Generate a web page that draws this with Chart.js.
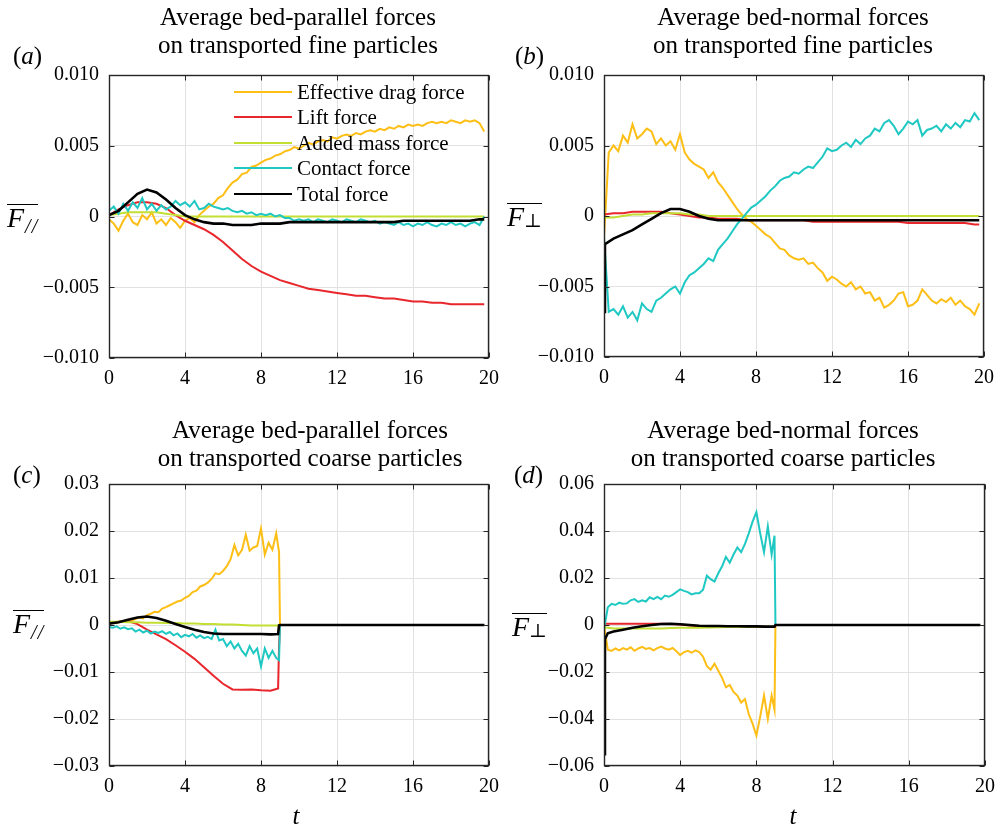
<!DOCTYPE html>
<html>
<head>
<meta charset="utf-8">
<script src="https://cdn.jsdelivr.net/npm/chart.js@4.4.1/dist/chart.umd.min.js"></script>
<style>
  body { margin: 0; background: #fff; }
  #fig { position: relative; width: 999px; height: 828px; overflow: hidden;
         font-family: 'Liberation Serif', 'Times New Roman', serif; color: #000; }
  #fig canvas { position: absolute; }
  .title { position: absolute; font-size: 25px; line-height: 28px; text-align: center;
           white-space: nowrap; transform: translateX(-50%); }
  .tag { position: absolute; font-size: 25px; line-height: 22px; white-space: nowrap; }
  .tag i, .tlab { font-style: italic; }
  .tlab { position: absolute; font-size: 25px; line-height: 22px; transform: translateX(-50%); }
  .ylab { position: absolute; font-size: 28px; line-height: 24px; white-space: nowrap;
          border-top: 1.3px solid #000; padding-top: 1px; }
  .ylab i { font-style: italic; }
  .ylab .par { font-size: 20px; font-style: italic; position: relative; top: 6px; letter-spacing: 1px; margin-left: 1px; }
  .ylab .perp { font-family: 'DejaVu Serif', 'DejaVu Sans', serif; font-size: 19px; position: relative; top: 1px; }
  #legend { position: absolute; left: 0; top: 0; }
  .row { position: absolute; height: 24px; line-height: 24px; font-size: 21px; white-space: nowrap; }
  .row .sw { position: absolute; left: 234px; top: 11px; width: 58px; border-top: 2px solid; }
  .row span { position: absolute; left: 297px; top: 0; }
</style>
</head>
<body>
<div id="fig">
  <canvas id="pa" width="499" height="400" style="left:0;top:0"></canvas>
  <canvas id="pb" width="500" height="400" style="left:499px;top:0"></canvas>
  <canvas id="pc" width="499" height="428" style="left:0;top:400px"></canvas>
  <canvas id="pd" width="500" height="428" style="left:499px;top:400px"></canvas>

  <div class="title" style="left:298px;top:3px">Average bed-parallel forces<br>on transported fine particles</div>
  <div class="title" style="left:793px;top:3px">Average bed-normal forces<br>on transported fine particles</div>
  <div class="title" style="left:310px;top:416px">Average bed-parallel forces<br>on transported coarse particles</div>
  <div class="title" style="left:783px;top:416px">Average bed-normal forces<br>on transported coarse particles</div>

  <div class="tag" style="left:13px;top:45px">(<i>a</i>)</div>
  <div class="tag" style="left:515px;top:45px">(<i>b</i>)</div>
  <div class="tag" style="left:13px;top:464px">(<i>c</i>)</div>
  <div class="tag" style="left:514px;top:464px">(<i>d</i>)</div>

  <div class="ylab" style="left:7px;top:204px"><i>F</i><span class="par">//</span></div>
  <div class="ylab" style="left:507px;top:203px"><i>F</i><span class="perp">⊥</span></div>
  <div class="ylab" style="left:13px;top:610px"><i>F</i><span class="par">//</span></div>
  <div class="ylab" style="left:512px;top:613px"><i>F</i><span class="perp">⊥</span></div>

  <div class="tlab" style="left:296px;top:805px">t</div>
  <div class="tlab" style="left:793px;top:805px">t</div>

  <div id="legend"></div>
</div>

<script>
// force components, same order in every panel
const seriesNames = ['Effective drag force', 'Lift force', 'Added mass force', 'Contact force', 'Total force'];
const seriesColors = ['#FDBE16', '#E8262C', '#C3DF33', '#1FC8C2', '#000000'];

const xTicks = [0, 4, 8, 12, 16, 20];
const yTicksFine = [-0.010, -0.005, 0, 0.005, 0.010];
const yLabelsFine = ['\u22120.010', '\u22120.005', '0', '0.005', '0.010'];
const yTicksC = [-0.03, -0.02, -0.01, 0, 0.01, 0.02, 0.03];
const yLabelsC = ['\u22120.03', '\u22120.02', '\u22120.01', '0', '0.01', '0.02', '0.03'];
const yTicksD = [-0.06, -0.04, -0.02, 0, 0.02, 0.04, 0.06];
const yLabelsD = ['\u22120.06', '\u22120.04', '\u22120.02', '0', '0.02', '0.04', '0.06'];

// time samples, fine particles
const tFine = [0,0.25,0.5,0.75,1,1.25,1.5,1.75,2,2.25,2.5,2.75,3,3.25,3.5,3.75,4,4.25,4.5,4.75,
  5,5.25,5.5,5.75,6,6.25,6.5,6.75,7,7.25,7.5,7.75,8,8.25,8.5,8.75,9,9.25,9.5,9.75,
  10,10.25,10.5,10.75,11,11.25,11.5,11.75,12,12.25,12.5,12.75,13,13.25,13.5,13.75,14,14.25,14.5,14.75,
  15,15.25,15.5,15.75,16,16.25,16.5,16.75,17,17.25,17.5,17.75,18,18.25,18.5,18.75,19,19.25,19.5,19.75];
const tCoarse = [0,0.5,1,1.5,2,2.5,3,3.5,4,4.5,5,5.5,6,6.5,7,7.5,8,8.5,9,9.5,
  10,10.5,11,11.5,12,12.5,13,13.5,14,14.5,15,15.5,16,16.5,17,17.5,18,18.5,19,19.5,19.75];
const tTotalB = [0,0.05,0.5,1,1.5,2,2.5,3,3.5,4,4.5,5,5.5,6,6.5,7,8,9,10,11,12,13,14,15,16,17,18,19,19.75];

// time samples, coarse particles (they leave the transport layer near t = 9)
const tFineC = [0,0.2,0.4,0.6,0.8,1,1.2,1.4,1.6,1.8,2,2.2,2.4,2.6,2.8,3,3.2,3.4,3.6,3.8,
  4,4.2,4.4,4.6,4.8,5,5.2,5.4,5.6,5.8,6,6.2,6.4,6.6,6.8,7,7.2,7.4,7.6,7.8,8,8.2,8.4,8.6,8.8,8.95,9,19.75];
const tCoarseC = [0,0.5,1,1.5,2,2.5,3,3.5,4,4.5,5,5.5,6,6.5,7,7.5,8,8.5,8.9,8.95,9,19.75];
const tTotalD = [0,0.05,0.2,0.5,1,1.5,2,2.5,3,3.5,4,4.5,5,5.5,6,6.5,7,7.5,8,8.5,8.95,9,19.75];

// (a) bed-parallel, fine
const dragA = [-0.0002,-0.0005,-0.0010,-0.0003,0.0002,-0.0004,-0.0006,0.0001,-0.0002,0.0003,-0.0005,-0.0002,-0.0006,-0.0001,-0.0004,-0.0008,-0.0003,-0.0001,-0.0004,0.0001,
  0.0004,0.0007,0.0009,0.0013,0.0015,0.0020,0.0024,0.0026,0.0030,0.0031,0.0035,0.0036,0.0038,0.0040,0.0041,0.0043,0.0044,0.0046,0.0047,0.0049,
  0.0048,0.0050,0.0052,0.0051,0.0053,0.0054,0.0053,0.0056,0.0055,0.0057,0.0058,0.0057,0.0059,0.0058,0.0060,0.0061,0.0060,0.0062,0.0061,0.0063,
  0.0062,0.0064,0.0063,0.0065,0.0064,0.0065,0.0064,0.0066,0.0067,0.0066,0.0067,0.0066,0.0068,0.0067,0.0066,0.0068,0.0067,0.0068,0.0066,0.0060];
const liftA = [0.0001,0.0005,0.0008,0.0010,0.0010,0.0009,0.0006,0.0001,-0.0003,-0.0006,-0.0009,-0.0013,-0.0018,-0.0024,-0.0030,-0.0035,-0.0039,-0.0042,-0.0045,-0.0047,
  -0.0049,-0.0051,-0.0052,-0.0053,-0.0054,-0.0055,-0.0056,-0.0056,-0.0057,-0.0058,-0.0058,-0.0059,-0.0060,-0.0060,-0.0061,-0.0061,-0.0062,-0.0062,-0.0062,-0.0062,-0.0062];
const addedA = [0.0001,0.0002,0.0003,0.0003,0.0003,0.0003,0.0002,0.0001,0,0,0,0,0,0,0,0,0,0,0,0,
  0,0,0,0,0,0,0,0,0,0,0,0,0,0,0,0,0,0,0,0,0];
const contactA = [0.0004,0.0007,0.0002,0.0009,0.0004,0.0010,0.0006,0.0013,0.0005,0.0009,0.0004,0.0008,0.0005,0.0007,0.0011,0.0008,0.0010,0.0007,0.0011,0.0005,
  0.0006,0.0009,0.0007,0.0006,0.0005,0.0006,0.0004,0.0003,0.0004,0.0002,0.0003,0.0001,0.0002,0.0001,0.0002,0.0000,0.0001,-0.0001,-0.0001,-0.0003,
  -0.0002,-0.0003,-0.0002,-0.0004,-0.0002,-0.0003,-0.0004,-0.0002,-0.0003,-0.0004,-0.0002,-0.0003,-0.0004,-0.0002,-0.0003,-0.0004,-0.0003,-0.0005,-0.0004,-0.0005,
  -0.0006,-0.0004,-0.0006,-0.0005,-0.0007,-0.0005,-0.0006,-0.0004,-0.0006,-0.0007,-0.0005,-0.0006,-0.0004,-0.0006,-0.0005,-0.0007,-0.0005,-0.0004,-0.0006,0.0000];
const totalA = [0.0001,0.0004,0.0010,0.0016,0.0019,0.0017,0.0012,0.0006,0.0001,-0.0002,-0.0004,-0.0005,-0.0005,-0.0006,-0.0006,-0.0006,-0.0005,-0.0005,-0.0005,-0.0004,
  -0.0004,-0.0004,-0.0004,-0.0004,-0.0004,-0.0004,-0.0004,-0.0004,-0.0004,-0.0004,-0.0004,-0.0003,-0.0003,-0.0003,-0.0003,-0.0003,-0.0003,-0.0003,-0.0003,-0.0002,-0.0002];

// (b) bed-normal, fine
const dragB = [-0.0015,0.0045,0.0050,0.0046,0.0057,0.0052,0.0065,0.0055,0.0058,0.0062,0.0060,0.0051,0.0055,0.0050,0.0053,0.0047,0.0058,0.0045,0.0040,0.0037,
  0.0035,0.0033,0.0027,0.0031,0.0024,0.0020,0.0015,0.0010,0.0005,0.0001,-0.0002,-0.0004,-0.0007,-0.0010,-0.0013,-0.0015,-0.0019,-0.0023,-0.0024,-0.0028,
  -0.0030,-0.0031,-0.0030,-0.0034,-0.0033,-0.0037,-0.0040,-0.0046,-0.0043,-0.0045,-0.0048,-0.0050,-0.0047,-0.0052,-0.0050,-0.0055,-0.0054,-0.0060,-0.0058,-0.0065,
  -0.0063,-0.0060,-0.0055,-0.0054,-0.0064,-0.0063,-0.0060,-0.0052,-0.0056,-0.0060,-0.0062,-0.0059,-0.0061,-0.0058,-0.0063,-0.0060,-0.0064,-0.0066,-0.0070,-0.0062];
const liftB = [0.0001,0.0002,0.0002,0.0003,0.0003,0.0003,0.0003,0.0002,0.0001,0.0000,-0.0001,-0.0001,-0.0002,-0.0002,-0.0002,-0.0003,-0.0003,-0.0003,-0.0003,-0.0003,
  -0.0003,-0.0003,-0.0004,-0.0004,-0.0004,-0.0004,-0.0004,-0.0004,-0.0004,-0.0004,-0.0004,-0.0004,-0.0005,-0.0005,-0.0005,-0.0005,-0.0005,-0.0005,-0.0005,-0.0006,-0.0006];
const addedB = [-0.0001,-0.0001,0.0000,0.0001,0.0001,0.0002,0.0002,0.0002,0.0002,0.0001,0.0001,0.0000,0,0,0,0,0,0,0,0,
  0,0,0,0,0,0,0,0,0,0,0,0,0,0,0,0,0,0,0,0,0];
const contactB = [-0.0015,-0.0068,-0.0066,-0.0070,-0.0064,-0.0072,-0.0068,-0.0074,-0.0062,-0.0066,-0.0068,-0.0060,-0.0058,-0.0055,-0.0052,-0.0050,-0.0055,-0.0047,-0.0042,-0.0040,
  -0.0037,-0.0034,-0.0030,-0.0032,-0.0024,-0.0020,-0.0016,-0.0011,-0.0006,-0.0002,0.0002,0.0006,0.0008,0.0011,0.0014,0.0018,0.0021,0.0025,0.0027,0.0028,
  0.0031,0.0030,0.0033,0.0035,0.0034,0.0038,0.0042,0.0048,0.0046,0.0047,0.0050,0.0052,0.0049,0.0054,0.0051,0.0055,0.0057,0.0062,0.0060,0.0066,
  0.0068,0.0064,0.0058,0.0062,0.0067,0.0065,0.0068,0.0057,0.0061,0.0062,0.0064,0.0060,0.0065,0.0062,0.0066,0.0063,0.0068,0.0067,0.0073,0.0068];
const totalB = [-0.0068,-0.0020,-0.0016,-0.0013,-0.0010,-0.0006,-0.0002,0.0002,0.0005,0.0005,0.0003,0.0000,-0.0002,-0.0003,-0.0003,-0.0003,
  -0.0003,-0.0003,-0.0003,-0.0003,-0.0003,-0.0003,-0.0003,-0.0003,-0.0003,-0.0003,-0.0003,-0.0003,-0.0003];

// (c) bed-parallel, coarse
const dragC = [0.0005,0.0006,0.0004,0.0008,0.0007,0.0010,0.0009,0.0013,0.0016,0.0014,
  0.0021,0.0024,0.0028,0.0027,0.0035,0.0038,0.0042,0.0046,0.0050,0.0052,
  0.0058,0.0062,0.0070,0.0073,0.0082,0.0085,0.0090,0.0098,0.0110,0.0108,
  0.0115,0.0125,0.0140,0.0170,0.0148,0.0160,0.0192,0.0158,0.0165,0.0168,
  0.0205,0.0150,0.0175,0.0160,0.0195,0.0155,0,0];
const liftC = [0.0003,0.0007,0.0008,0.0002,-0.0010,-0.0020,-0.0030,-0.0043,-0.0057,-0.0072,-0.0090,-0.0108,-0.0125,-0.0137,-0.0138,-0.0137,-0.0139,-0.0140,-0.0135,-0.0045,0,0];
const addedC = [0.0007,0.0007,0.0006,0.0006,0.0005,0.0005,0.0004,0.0004,0.0003,0.0003,0.0002,0.0002,0.0001,0.0001,0.0000,-0.0001,-0.0001,-0.0001,-0.0001,0,0,0];
const contactC = [-0.0004,-0.0006,-0.0003,-0.0008,-0.0005,-0.0009,-0.0007,-0.0014,-0.0010,-0.0016,
  -0.0012,-0.0018,-0.0014,-0.0017,-0.0013,-0.0019,-0.0015,-0.0022,-0.0018,-0.0026,
  -0.0021,-0.0024,-0.0019,-0.0027,-0.0022,-0.0028,-0.0025,-0.0030,-0.0010,-0.0033,
  -0.0030,-0.0045,-0.0035,-0.0050,-0.0040,-0.0055,-0.0065,-0.0045,-0.0060,-0.0050,
  -0.0088,-0.0050,-0.0070,-0.0055,-0.0070,-0.0075,0,0];
const totalC = [0.0003,0.0006,0.0011,0.0016,0.0018,0.0015,0.0009,0.0002,-0.0004,-0.0010,-0.0015,-0.0018,-0.0019,-0.0019,-0.0019,-0.0019,-0.0019,-0.0020,-0.0019,-0.0001,0,0];

// (d) bed-normal, coarse
const dragD = [0.0000,-0.0105,-0.0110,-0.0100,-0.0108,-0.0098,-0.0105,-0.0095,-0.0110,-0.0100,
  -0.0093,-0.0102,-0.0098,-0.0108,-0.0098,-0.0092,-0.0100,-0.0105,-0.0098,-0.0112,
  -0.0128,-0.0115,-0.0110,-0.0118,-0.0108,-0.0115,-0.0135,-0.0175,-0.0190,-0.0165,
  -0.0195,-0.0225,-0.0265,-0.0255,-0.0285,-0.0300,-0.0330,-0.0315,-0.0380,-0.0420,
  -0.0470,-0.0390,-0.0300,-0.0400,-0.0300,-0.0360,0,0];
const liftD = [0.0005,0.0005,0.0005,0.0005,0.0005,0.0005,0.0005,0.0004,0.0002,-0.0002,-0.0005,-0.0007,-0.0008,-0.0008,-0.0008,-0.0008,-0.0008,-0.0008,-0.0008,-0.0008,0,0];
const addedD = [-0.0010,-0.0015,-0.0015,-0.0015,-0.0015,-0.0015,-0.0015,-0.0013,-0.0012,-0.0012,-0.0012,-0.0011,-0.0010,-0.0009,-0.0008,-0.0008,-0.0007,-0.0007,-0.0006,-0.0005,0,0];
const contactD = [-0.0020,0.0075,0.0090,0.0085,0.0095,0.0090,0.0092,0.0105,0.0110,0.0098,
  0.0105,0.0100,0.0118,0.0110,0.0120,0.0110,0.0125,0.0120,0.0128,0.0140,
  0.0152,0.0145,0.0140,0.0130,0.0135,0.0135,0.0150,0.0210,0.0195,0.0185,
  0.0220,0.0250,0.0290,0.0265,0.0300,0.0330,0.0310,0.0345,0.0390,0.0440,
  0.0480,0.0390,0.0310,0.0420,0.0300,0.0380,0,0];
const totalD = [-0.0550,-0.0060,-0.0035,-0.0028,-0.0020,-0.0012,-0.0005,0.0000,0.0004,0.0005,0.0003,0.0000,-0.0003,-0.0004,-0.0004,-0.0005,-0.0005,-0.0006,-0.0006,-0.0007,-0.0007,0,0];

const tickFont = { family: "'Liberation Serif', 'Times New Roman', serif", size: 20 };
const axisColor = '#262626';
const gridColor = '#e2e2e2';

// box around the axes with inward ticks on all four sides
const boxTicks = {
  id: 'boxTicks',
  afterDatasetsDraw(chart) {
    const { ctx, chartArea: a, scales: { x, y } } = chart;
    const L = Math.round(a.left) + 0.5, R = Math.round(a.right) - 0.5;
    const T = Math.round(a.top) + 0.5, B = Math.round(a.bottom) - 0.5;
    ctx.save();
    ctx.strokeStyle = axisColor;
    ctx.lineWidth = 1;
    ctx.beginPath();
    x.ticks.forEach(t => {
      const px = Math.round(x.getPixelForValue(t.value)) + 0.5;
      ctx.moveTo(px, B); ctx.lineTo(px, B - 5);
      ctx.moveTo(px, T); ctx.lineTo(px, T + 5);
    });
    y.ticks.forEach(t => {
      const py = Math.round(y.getPixelForValue(t.value)) + 0.5;
      ctx.moveTo(L, py); ctx.lineTo(L + 5, py);
      ctx.moveTo(R, py); ctx.lineTo(R - 5, py);
    });
    ctx.stroke();
    ctx.lineWidth = 1.4;
    ctx.strokeRect(L, T, R - L, B - T);
    ctx.restore();
  }
};

function drawPanel(id, series, yTicks, yLabels, box) {
  const datasets = series.map((s, k) => ({
    label: seriesNames[k],
    data: s.t.map((t, i) => ({ x: t, y: s.v[i] })),
    borderColor: seriesColors[k],
    borderWidth: k === 4 ? 2.6 : 2,
    pointRadius: 0,
    tension: 0,
    order: 4 - k
  }));
  return new Chart(document.getElementById(id), {
    type: 'line',
    data: { datasets },
    options: {
      responsive: false,
      animation: false,
      events: [],
      layout: { padding: { top: box.top, right: box.right, left: 0, bottom: 0 } },
      plugins: { legend: { display: false }, tooltip: { enabled: false } },
      scales: {
        x: {
          type: 'linear', min: 0, max: 20,
          afterBuildTicks: s => { s.ticks = xTicks.map(v => ({ value: v })); },
          afterFit: s => { s.height = box.xh; s.paddingLeft = 0; s.paddingRight = 0; },
          ticks: { font: tickFont, color: '#000', padding: 9, maxRotation: 0, autoSkip: false },
          grid: { color: gridColor, lineWidth: 1, drawTicks: false },
          border: { display: false }
        },
        y: {
          type: 'linear', min: yTicks[0], max: yTicks[yTicks.length - 1],
          afterBuildTicks: s => { s.ticks = yTicks.map(v => ({ value: v })); },
          afterFit: s => { s.width = box.yw; s.paddingTop = 0; s.paddingBottom = 0; },
          ticks: { font: tickFont, color: '#000', padding: 10, autoSkip: false,
                   callback: (v, i) => yLabels[i] },
          grid: { color: gridColor, lineWidth: 1, drawTicks: false },
          border: { display: false }
        }
      }
    },
    plugins: [boxTicks]
  });
}

drawPanel('pa', [
  { t: tFine, v: dragA }, { t: tCoarse, v: liftA }, { t: tCoarse, v: addedA },
  { t: tFine, v: contactA }, { t: tCoarse, v: totalA }
], yTicksFine, yLabelsFine, { top: 75, right: 10, yw: 109, xh: 42 });

drawPanel('pb', [
  { t: tFine, v: dragB }, { t: tCoarse, v: liftB }, { t: tCoarse, v: addedB },
  { t: tFine, v: contactB }, { t: tTotalB, v: totalB }
], yTicksFine, yLabelsFine, { top: 75, right: 15, yw: 105, xh: 43 });

drawPanel('pc', [
  { t: tFineC, v: dragC }, { t: tCoarseC, v: liftC }, { t: tCoarseC, v: addedC },
  { t: tFineC, v: contactC }, { t: tCoarseC, v: totalC }
], yTicksC, yLabelsC, { top: 84, right: 10, yw: 109, xh: 62 });

drawPanel('pd', [
  { t: tFineC, v: dragD }, { t: tCoarseC, v: liftD }, { t: tCoarseC, v: addedD },
  { t: tFineC, v: contactD }, { t: tTotalD, v: totalD }
], yTicksD, yLabelsD, { top: 84, right: 14, yw: 105, xh: 62 });

// legend inside panel (a)
const legend = document.getElementById('legend');
seriesNames.forEach((name, k) => {
  const row = document.createElement('div');
  row.className = 'row';
  row.style.top = (92 + 25.4 * k - 12) + 'px';
  row.innerHTML = '<div class="sw" style="border-color:' + seriesColors[k] + '"></div><span>' + name + '</span>';
  legend.appendChild(row);
});
</script>
</body>
</html>
